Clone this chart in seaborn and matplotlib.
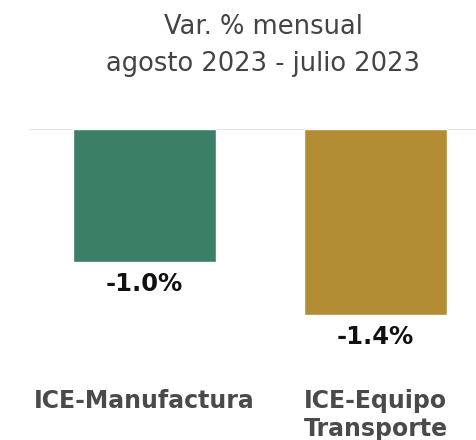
import seaborn as sns
import pandas as pd
import matplotlib.pyplot as plt

categories = ['ICE-Manufactura', 'ICE-Equipo\nTransporte']
values = [-1.0, -1.4]
value_labels = ['-1.0%', '-1.4%']
colors = ['#3a7f66', '#b38d33']
title = 'Var. % mensual\nagosto 2023 - julio 2023'

sns.set_style('white')
plt.rcParams['font.family'] = ['DejaVu Sans']

df = pd.DataFrame({'cat': categories, 'val': values})

fig = plt.figure(figsize=(4.76, 4.4), dpi=100)
ax = fig.add_axes([0.063, 0.132, 0.937, 0.575])

sns.barplot(data=df, x='cat', y='val', hue='cat', palette=colors,
            width=0.62, saturation=1, legend=False, ax=ax)

ax.set_ylim(-1.9, 0)
ax.set_xlim(-0.496, 1.435)
ax.axhline(0, color='#dcdcdc', lw=1.2, zorder=0)

for c, lab in zip(ax.containers, value_labels):
    ax.bar_label(c, labels=[lab], padding=7, fontsize=17.5, fontweight='bold', color='#111111')

ax.set_xlabel('')
ax.set_ylabel('')
ax.set_yticks([])
ax.tick_params(axis='x', length=0, pad=5, labelsize=17, labelcolor='#4a4a4a')
for t in ax.get_xticklabels():
    t.set_fontweight('bold')
    t.set_linespacing(1.2)
sns.despine(ax=ax, left=True, bottom=True)

fig.text(0.553, 0.968, title, ha='center', va='top', fontsize=18.5, color='#444444', linespacing=1.55)

fig.savefig('out.png', dpi=100)
